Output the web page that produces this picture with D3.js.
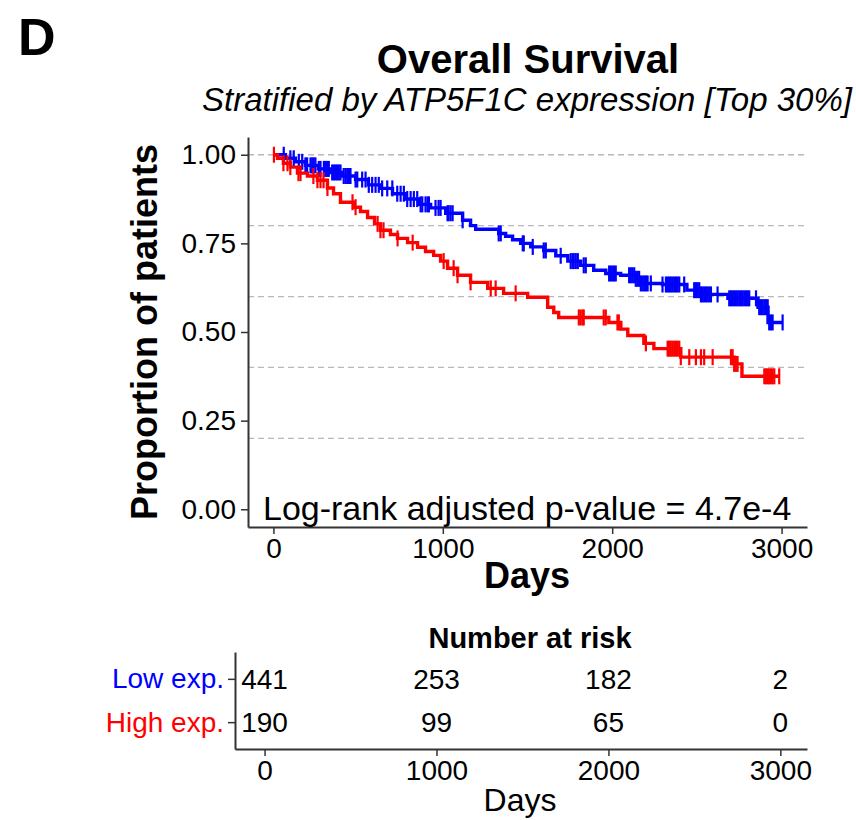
<!DOCTYPE html>
<html>
<head>
<meta charset="utf-8">
<title>Overall Survival</title>
<script src="https://cdn.jsdelivr.net/npm/d3@7/dist/d3.min.js"></script>
<style>
  body { margin: 0; background: #fff; font-family: "Liberation Sans", Arial, Helvetica, sans-serif; }
</style>
</head>
<body>
<svg id="chart" width="856" height="820"></svg>
<script>
// Kaplan-Meier steps (days, survival)
var lowTimes = [0, 71, 130, 189, 266, 337, 408, 485, 561, 632, 703, 780, 857, 928, 1017, 1117, 1164, 1194, 1330, 1371, 1412, 1460, 1519, 1596, 1667, 1738, 1814, 1891, 1962, 2050, 2139, 2169, 2297, 2441, 2524, 2683, 2861, 2920];
var lowSurv  = [1.00, 0.99, 0.98, 0.97, 0.96, 0.95, 0.94, 0.93, 0.915, 0.905, 0.89, 0.875, 0.86, 0.85, 0.835, 0.815, 0.80, 0.79, 0.778, 0.77, 0.76, 0.75, 0.74, 0.73, 0.715, 0.70, 0.688, 0.674, 0.665, 0.66, 0.65, 0.637, 0.634, 0.618, 0.606, 0.595, 0.57, 0.527];
var lowEnd = 3006;
var lowCensor = [61, 100, 120, 150, 170, 189, 199, 219, 229, 238, 248, 268, 278, 298, 307, 317, 327, 347, 357, 366, 376, 386, 396, 415, 426, 436, 446, 455, 485, 495, 524, 544, 563, 583, 603, 622, 642, 672, 702, 731, 751, 770, 790, 810, 829, 849, 869, 879, 898, 910, 918, 957, 975, 987,
  1028, 1034, 1046, 1058, 1117, 1330, 1342, 1472, 1478, 1531, 1596, 1608, 1696, 1755, 1767, 1773, 1785, 1797, 1832, 1844,
  1982, 1992, 2002, 2011, 2021, 2100, 2110, 2120, 2130, 2139, 2149, 2159, 2169, 2179, 2189, 2199, 2209, 2228,
  2297, 2317, 2327, 2336, 2346, 2356, 2366, 2376, 2386, 2396, 2425, 2484, 2494, 2504, 2514, 2524, 2533, 2543, 2553, 2563, 2573, 2583, 2622,
  2691, 2701, 2711, 2720, 2730, 2740, 2750, 2760, 2770, 2780, 2790, 2800, 2809, 2849, 2868, 2878, 2888, 2898, 2908, 2918, 2927, 2937, 2947, 3006];

var highTimes = [0, 24, 59, 100, 142, 201, 260, 319, 355, 396, 473, 514, 556, 597, 632, 691, 733, 792, 851, 898, 946, 987, 1028, 1087, 1164, 1265, 1359, 1501, 1619, 1655, 1684, 1980, 2051, 2092, 2187, 2246, 2405, 2719, 2766];
var highSurv  = [1.00, 0.99, 0.976, 0.965, 0.948, 0.94, 0.928, 0.906, 0.89, 0.866, 0.852, 0.84, 0.823, 0.805, 0.787, 0.775, 0.764, 0.752, 0.739, 0.727, 0.716, 0.70, 0.68, 0.66, 0.64, 0.623, 0.609, 0.598, 0.57, 0.555, 0.541, 0.527, 0.508, 0.49, 0.468, 0.453, 0.429, 0.41, 0.375];
var highEnd = 2990;
var highCensor = [3, 59, 83, 100, 148, 160, 236, 260, 278, 296, 319, 467, 485, 615, 632, 650, 733, 822,
  1005, 1064, 1087, 1164, 1283, 1312, 1430, 1803, 1814, 1826, 1832, 1950, 1962, 2031, 2039, 2199,
  2327, 2336, 2346, 2356, 2366, 2376, 2386, 2396, 2405, 2455, 2494, 2524, 2543, 2593,
  2701, 2711, 2720, 2730, 2740, 2898, 2908, 2918, 2927, 2937, 2947, 2957, 2986];

var yTicks = [0, 0.25, 0.5, 0.75, 1];
var yGrid = [0.2, 0.4, 0.6, 0.8, 1.0];
var xTicks = [0, 1000, 2000, 3000];

var groups = ["Low exp.", "High exp."];
var colors = ["#0000ff", "#ff0000"];
var riskLow = [441, 253, 182, 2];
var riskHigh = [190, 99, 65, 0];

var svg = d3.select("#chart");
var font = "'Liberation Sans', Arial, Helvetica, sans-serif";

var x = d3.scaleLinear().domain([-150, 3150]).range([248, 807]);
var y = d3.scaleLinear().domain([-0.05, 1.05]).range([527, 137]);

// panel letter + titles
svg.append("text").attr("x", 18).attr("y", 55)
  .attr("font-size", 52).attr("font-weight", "bold").text("D");
svg.append("text").attr("x", 528).attr("y", 73).attr("text-anchor", "middle")
  .attr("font-size", 40).attr("font-weight", "bold").text("Overall Survival");
svg.append("text").attr("x", 527).attr("y", 111).attr("text-anchor", "middle")
  .attr("font-size", 33).attr("font-style", "italic").text("Stratified by ATP5F1C expression [Top 30%]");

// dashed grid
svg.append("g").selectAll("line").data(yGrid).enter().append("line")
  .attr("x1", x.range()[0]).attr("x2", x.range()[1])
  .attr("y1", function(d){ return y(d); }).attr("y2", function(d){ return y(d); })
  .attr("stroke", "#b8b8b8").attr("stroke-width", 1.3).attr("stroke-dasharray", "6,4");

// axes
var yAxis = svg.append("g").attr("transform", "translate(248,0)")
  .call(d3.axisLeft(y).tickValues(yTicks).tickFormat(d3.format(".2f")).tickSize(7).tickSizeOuter(0).tickPadding(5));
var xAxis = svg.append("g").attr("transform", "translate(0,527)")
  .call(d3.axisBottom(x).tickValues(xTicks).tickFormat(d3.format("d")).tickSize(7).tickSizeOuter(0).tickPadding(4));
[yAxis, xAxis].forEach(function(g){
  g.attr("font-size", 28).attr("font-family", font);
  g.selectAll("text").attr("fill", "#000");
  g.select(".domain").attr("stroke", "#333").attr("stroke-width", 2);
  g.selectAll(".tick line").attr("stroke", "#333").attr("stroke-width", 1.5);
});

svg.append("text").attr("transform", "translate(157,332) rotate(-90)").attr("text-anchor", "middle")
  .attr("font-size", 36).attr("font-weight", "bold").text("Proportion of patients");
svg.append("text").attr("x", 527).attr("y", 588).attr("text-anchor", "middle")
  .attr("font-size", 36).attr("font-weight", "bold").text("Days");

// survival curves
function survAt(times, surv, t) {
  var i = d3.bisectRight(times, t) - 1;
  return surv[Math.max(0, i)];
}
var line = d3.line().curve(d3.curveStepAfter)
  .x(function(d){ return x(d[0]); }).y(function(d){ return y(d[1]); });

var curves = [
  { times: lowTimes, surv: lowSurv, end: lowEnd, censor: lowCensor, color: colors[0] },
  { times: highTimes, surv: highSurv, end: highEnd, censor: highCensor, color: colors[1] }
];
curves.forEach(function(c){
  var pts = c.times.map(function(t, i){ return [t, c.surv[i]]; });
  pts.push([c.end, c.surv[c.surv.length - 1]]);
  svg.append("path").datum(pts).attr("d", line)
    .attr("fill", "none").attr("stroke", c.color).attr("stroke-width", 3.4);
  svg.append("g").selectAll("line").data(c.censor).enter().append("line")
    .attr("x1", function(d){ return x(d); }).attr("x2", function(d){ return x(d); })
    .attr("y1", function(d){ return y(survAt(c.times, c.surv, d)) - 8; })
    .attr("y2", function(d){ return y(survAt(c.times, c.surv, d)) + 8; })
    .attr("stroke", c.color).attr("stroke-width", 2.2);
});

svg.append("text").attr("x", 263).attr("y", 520)
  .attr("font-size", 34).text("Log-rank adjusted p-value = 4.7e-4");

// risk table
var xt = d3.scaleLinear().domain([-172, 3155]).range([235, 807]);
var yt = d3.scalePoint().domain(groups).range([652, 749]).padding(0.62);

svg.append("text").attr("x", 530).attr("y", 648).attr("text-anchor", "middle")
  .attr("font-size", 29).attr("font-weight", "bold").text("Number at risk");

var tyAxis = svg.append("g").attr("transform", "translate(235,0)")
  .call(d3.axisLeft(yt).tickSize(7).tickPadding(4).tickSizeOuter(0));
var txAxis = svg.append("g").attr("transform", "translate(0,749)")
  .call(d3.axisBottom(xt).tickValues(xTicks).tickFormat(d3.format("d")).tickSize(7).tickSizeOuter(0).tickPadding(4));
[tyAxis, txAxis].forEach(function(g){
  g.attr("font-size", 28).attr("font-family", font);
  g.select(".domain").attr("stroke", "#333").attr("stroke-width", 2);
  g.selectAll(".tick line").attr("stroke", "#333").attr("stroke-width", 1.5);
  g.selectAll("text").attr("fill", "#000");
});
tyAxis.selectAll("text").attr("fill", function(d, i){ return colors[i]; });

[riskLow, riskHigh].forEach(function(row, r){
  svg.append("g").selectAll("text").data(row).enter().append("text")
    .attr("x", function(d, i){ return xt(xTicks[i]); })
    .attr("y", yt(groups[r]) + 10)
    .attr("text-anchor", "middle").attr("font-size", 28)
    .text(function(d){ return d; });
});

svg.append("text").attr("x", 520).attr("y", 811).attr("text-anchor", "middle")
  .attr("font-size", 32).text("Days");
</script>
</body>
</html>
